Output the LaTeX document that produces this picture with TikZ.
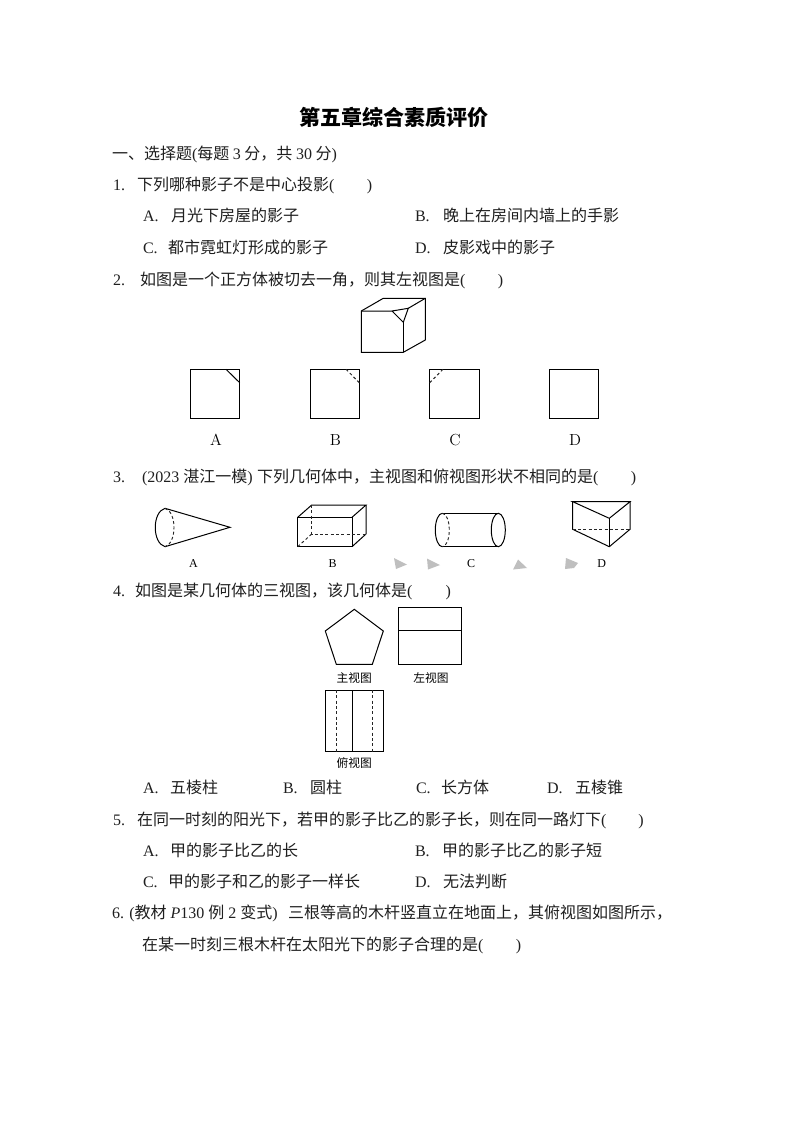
\documentclass[tikz,border=0pt]{standalone}
\usepackage{fontspec}
\newfontfamily\cjk{Noto Sans CJK SC}
\newfontfamily\lat{Liberation Serif}
\newcommand{\kuo}[1]{{\lat(}\hspace{#1}{\lat)}}
\tikzset{
  x=0.75pt,y=-0.75pt,
  txt/.style={anchor=base west,inner sep=0pt,outer sep=0pt,font=\cjk\fontsize{12}{14}\selectfont,text=black!88},
  num/.style={txt,font=\lat\fontsize{12}{14}\selectfont},
  ttl/.style={anchor=center,inner sep=0pt,font=\cjk\bfseries\fontsize{15.8}{18}\selectfont},
  optlab/.style={anchor=center,inner sep=0pt,font=\fontsize{12}{14}\selectfont},
  smlab/.style={anchor=center,inner sep=0pt,font=\lat\fontsize{9}{11}\selectfont},
  cjklab/.style={anchor=center,inner sep=0pt,font=\cjk\fontsize{8.8}{11}\selectfont},
  solidln/.style={draw=black,line width=0.75pt,line join=miter},
  dashln/.style={draw=black!85,line width=0.7pt,dash pattern=on 2.2pt off 1.8pt},
  graytri/.style={fill=black!25,draw=none},
}
\begin{document}
\begin{tikzpicture}
\useasboundingbox (0,0) rectangle (794,1123);
\fill[white] (0,0) rectangle (794,1123);

% title
\node[ttl] (title) at (394,117) {第五章综合素质评价};

% heading
\node[txt] (h1) at (112,159.5) {一、选择题{\lat(}每题 {\lat 3} 分，共 {\lat 30} 分{\lat)}};

% question 1
\node[num] (q1n) at (113,190.5) {1.};
\node[txt] (q1) at (137,190.5) {下列哪种影子不是中心投影\kuo{24.5pt}};
\node[num] (o1an) at (143,221.5) {A.};
\node[txt] (o1a) at (171,221.5) {月光下房屋的影子};
\node[num] (o1bn) at (415,221.5) {B.};
\node[txt] (o1b) at (443,221.5) {晚上在房间内墙上的手影};
\node[num] (o1cn) at (143,253) {C.};
\node[txt] (o1c) at (168,253) {都市霓虹灯形成的影子};
\node[num] (o1dn) at (415,253) {D.};
\node[txt] (o1d) at (443,253) {皮影戏中的影子};

% question 2
\node[num] (q2n) at (113,285) {2.};
\node[txt] (q2) at (140,285) {如图是一个正方体被切去一角，则其左视图是\kuo{24.5pt}};

% cube
\draw[solidln] (361.3,311) -- (392,311) -- (403.3,322.3) -- (408.3,308.3) -- (392,311);
\draw[solidln] (361.3,311) -- (383.3,298.3) -- (425.3,298.3) -- (425.3,340) -- (403.3,352.3) -- (361.3,352.3) -- cycle;
\draw[solidln] (403.3,322.3) -- (403.3,352.3);
\draw[solidln] (408.3,308.3) -- (425.3,298.3);

% answer squares
\draw[solidln] (190.3,369.3) rectangle (239.7,418.3);
\draw[solidln] (226,369.3) -- (239.7,382.7);
\draw[solidln] (310.3,369.3) rectangle (359.3,418.3);
\draw[dashln] (346,369.3) -- (359.3,382.7);
\draw[solidln] (429.7,369.3) rectangle (479,418.3);
\draw[dashln] (429.7,382.7) -- (443,369.3);
\draw[solidln] (549,369.3) rectangle (598.3,418.3);
\node[optlab] (sa) at (216,440) {A};
\node[optlab] (sb) at (335.5,440) {B};
\node[optlab] (sc) at (455,440) {C};
\node[optlab] (sd) at (575,440) {D};

% question 3
\node[num] (q3n) at (113,482) {3.};
\node[num] (q3s) at (142,482) {(2023 {\cjk 湛江一模})};
\node[txt] (q3) at (257,482) {下列几何体中，主视图和俯视图形状不相同的是\kuo{24.5pt}};

% cone
\draw[solidln] (165,508.3) -- (230,527.3) -- (165,546.7);
\draw[solidln] (165,508.3) .. controls (152,512) and (152,543) .. (165,546.7);
\draw[dashln] (165,508.3) .. controls (177,512) and (177,543) .. (165,546.7);
\node[smlab] (la) at (193.5,564) {A};

% box
\draw[solidln] (297.7,517.3) rectangle (352,546.7);
\draw[solidln] (297.7,517.3) -- (311.7,505) -- (366,505) -- (352,517.3);
\draw[solidln] (366,505) -- (366,534) -- (352,546.7);
\draw[dashln] (311.7,505) -- (311.7,534) -- (366,534);
\draw[dashln] (311.7,534) -- (297.7,546.7);
\node[smlab] (lb) at (332.5,564) {B};

% cylinder
\draw[solidln] (442.3,513.3) -- (498.3,513.3);
\draw[solidln] (442.3,546.7) -- (498.3,546.7);
\draw[solidln] (442.3,513.3) arc[start angle=90,end angle=270,x radius=7,y radius=-16.7];
\draw[dashln] (442.3,513.3) arc[start angle=90,end angle=-90,x radius=7,y radius=-16.7];
\draw[solidln] (498.3,530) ellipse[x radius=7,y radius=16.7];
\node[smlab] (lc) at (471,564) {C};

% prism
\draw[solidln] (572.7,501.7) -- (630,501.7) -- (609.3,518.3) -- cycle;
\draw[solidln] (572.7,501.7) -- (572.7,529.3) -- (609.3,546.7) -- (630,529.3) -- (630,501.7);
\draw[solidln] (609.3,518.3) -- (609.3,546.7);
\draw[dashln] (572.7,529.3) -- (630,529.3);
\node[smlab] (ld) at (601.7,564) {D};

% small grey marks
\fill[graytri] (394,558) -- (407,564.5) -- (396,569) -- cycle;
\fill[graytri] (427,558.5) -- (440,565) -- (428,569.5) -- cycle;
\fill[graytri] (513,569.5) -- (518,559.5) -- (527,568) -- cycle;
\fill[graytri] (566,558) -- (578,563) -- (574,568) -- (565,569) -- cycle;

% question 4
\node[num] (q4n) at (113,596) {4.};
\node[txt] (q4) at (135,596) {如图是某几何体的三视图，该几何体是\kuo{25pt}};

% three views
\draw[solidln] (354.3,609.3) -- (383.3,631) -- (372.3,664.3) -- (336.3,664.3) -- (325.3,631) -- cycle;
\draw[solidln] (398.7,607.3) rectangle (461.3,664.3);
\draw[solidln] (398.7,630) -- (461.3,630);
\node[cjklab] (v1) at (354.3,678.3) {主视图};
\node[cjklab] (v2) at (431,678.3) {左视图};
\draw[solidln] (325.3,690) rectangle (383.3,751.7);
\draw[solidln] (352.7,690) -- (352.7,751.7);
\draw[dashln] (336.3,690) -- (336.3,751.7);
\draw[dashln] (372.3,690) -- (372.3,751.7);
\node[cjklab] (v3) at (354.3,763) {俯视图};

% options 4
\node[num] (o4an) at (143,793) {A.};
\node[txt] (o4a) at (170,793) {五棱柱};
\node[num] (o4bn) at (283,793) {B.};
\node[txt] (o4b) at (310,793) {圆柱};
\node[num] (o4cn) at (416,793) {C.};
\node[txt] (o4c) at (441,793) {长方体};
\node[num] (o4dn) at (547,793) {D.};
\node[txt] (o4d) at (575,793) {五棱锥};

% question 5
\node[num] (q5n) at (113,825) {5.};
\node[txt] (q5) at (137,825) {在同一时刻的阳光下，若甲的影子比乙的影子长，则在同一路灯下\kuo{24pt}};
\node[num] (o5an) at (143,856) {A.};
\node[txt] (o5a) at (170,856) {甲的影子比乙的长};
\node[num] (o5bn) at (415,856) {B.};
\node[txt] (o5b) at (442,856) {甲的影子比乙的影子短};
\node[num] (o5cn) at (143,887) {C.};
\node[txt] (o5c) at (168,887) {甲的影子和乙的影子一样长};
\node[num] (o5dn) at (415,887) {D.};
\node[txt] (o5d) at (443,887) {无法判断};

% question 6
\node[num] (q6n) at (112,918) {6. ({\cjk 教材} \textit{P}130 {\cjk 例} 2 {\cjk 变式})};
\node[txt] (q6) at (288,918) {三根等高的木杆竖直立在地面上，其俯视图如图所示，};
\node[txt] (q6b) at (142,950) {在某一时刻三根木杆在太阳光下的影子合理的是\kuo{24.5pt}};
\end{tikzpicture}
\end{document}
